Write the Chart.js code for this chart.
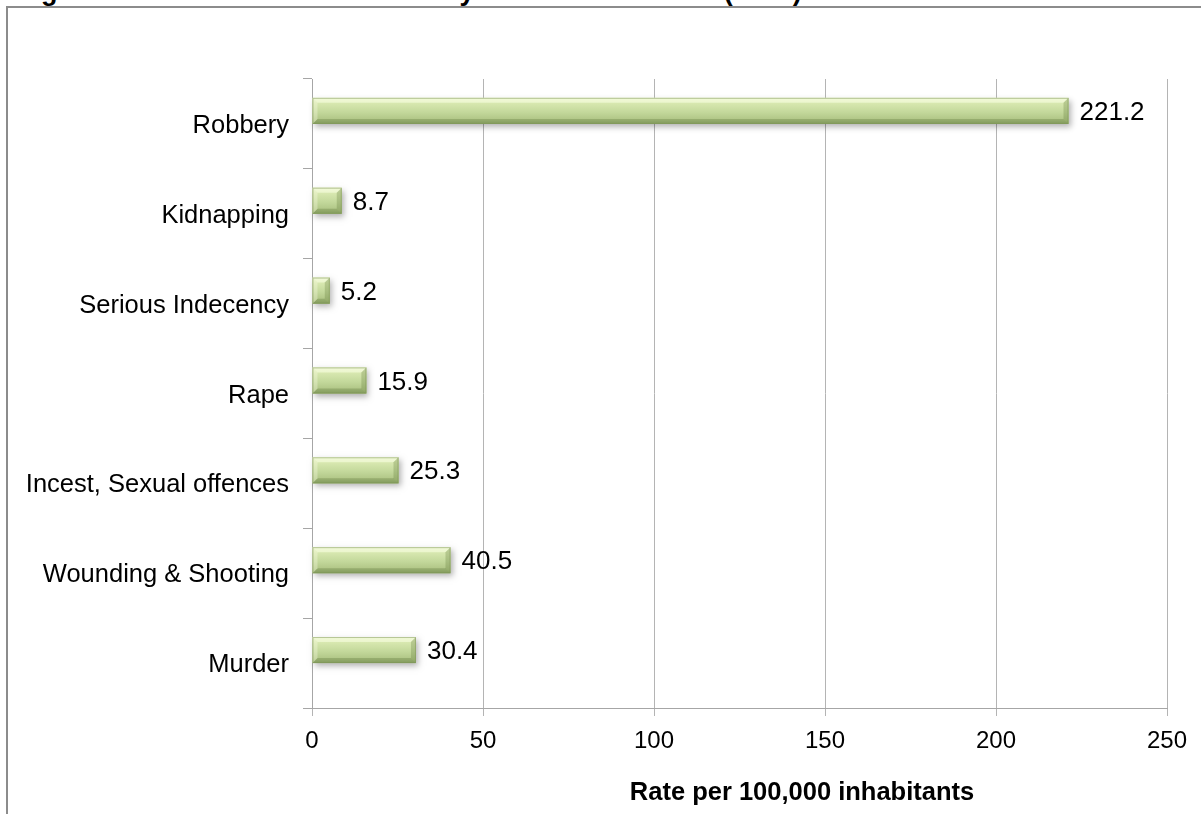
<!DOCTYPE html>
<html>
<head>
<meta charset="utf-8">
<script src="https://cdn.jsdelivr.net/npm/chart.js@4.4.1/dist/chart.umd.min.js"></script>
<style>
  html, body { margin:0; padding:0; background:#fff; width:1201px; height:814px; overflow:hidden; }
  #frame { position:absolute; left:6px; top:6px; width:1400px; height:1000px; border:2px solid #8c8c8c; box-sizing:border-box; }
  #title { position:absolute; left:17px; top:-22px; font:bold 27px "Liberation Sans", Arial, sans-serif; line-height:26px; color:#000; white-space:nowrap; }
  #wrap { position:absolute; left:0; top:0; width:1201px; height:814px; }
</style>
</head>
<body>
<div id="frame"></div>
<div id="title">Figure 5: Rate of Serious Crimes by Selected Offences (2012)</div>
<div id="wrap"><canvas id="c" width="1201" height="814"></canvas></div>
<script>
const categories = ['Robbery', 'Kidnapping', 'Serious Indecency', 'Rape', 'Incest, Sexual offences', 'Wounding & Shooting', 'Murder'];
const rates = [221.2, 8.7, 5.2, 15.9, 25.3, 40.5, 30.4];
const xTicks = [0, 50, 100, 150, 200, 250];
const axisTitle = 'Rate per 100,000 inhabitants';

const FONT = '"Liberation Sans", Arial, sans-serif';

function bevelBar(ctx, x0, x1, y0, y1) {
  const h = y1 - y0;
  const w = x1 - x0;
  if (w <= 0) return;
  const b = Math.min(5, w / 2, h / 2);
  ctx.save();
  ctx.shadowColor = 'rgba(0,0,0,0.30)';
  ctx.shadowBlur = 6;
  ctx.shadowOffsetX = 2;
  ctx.shadowOffsetY = 3;
  ctx.fillStyle = '#b8ce8e';
  ctx.fillRect(x0, y0, w, h);
  ctx.restore();
  const g = ctx.createLinearGradient(0, y0, 0, y1);
  g.addColorStop(0, '#e8f2ca');
  g.addColorStop(0.2, '#d8e8b0');
  g.addColorStop(0.55, '#c3d89b');
  g.addColorStop(0.85, '#afc585');
  g.addColorStop(1, '#98b070');
  ctx.fillStyle = g;
  ctx.fillRect(x0, y0, w, h);
  ctx.beginPath();
  ctx.moveTo(x0, y0); ctx.lineTo(x1, y0); ctx.lineTo(x1 - b, y0 + b); ctx.lineTo(x0 + b, y0 + b); ctx.closePath();
  ctx.fillStyle = 'rgba(250,255,228,0.55)';
  ctx.fill();
  ctx.beginPath();
  ctx.moveTo(x0, y1); ctx.lineTo(x1, y1); ctx.lineTo(x1 - b, y1 - b); ctx.lineTo(x0 + b, y1 - b); ctx.closePath();
  ctx.fillStyle = 'rgba(80,105,45,0.28)';
  ctx.fill();
  ctx.beginPath();
  ctx.moveTo(x0, y0); ctx.lineTo(x0 + b, y0 + b); ctx.lineTo(x0 + b, y1 - b); ctx.lineTo(x0, y1); ctx.closePath();
  ctx.fillStyle = 'rgba(255,255,235,0.30)';
  ctx.fill();
  ctx.beginPath();
  ctx.moveTo(x1, y0); ctx.lineTo(x1 - b, y0 + b); ctx.lineTo(x1 - b, y1 - b); ctx.lineTo(x1, y1); ctx.closePath();
  ctx.fillStyle = 'rgba(95,120,55,0.28)';
  ctx.fill();
  ctx.strokeStyle = 'rgba(125,150,85,0.5)';
  ctx.lineWidth = 1;
  ctx.strokeRect(x0 + 0.5, y0 + 0.5, w - 1, h - 1);
}

const bevelPlugin = {
  id: 'bevel',
  afterDatasetsDraw(chart) {
    const ctx = chart.ctx;
    const meta = chart.getDatasetMeta(0);
    ctx.save();
    meta.data.forEach((el, i) => {
      const p = el.getProps(['x', 'y', 'base', 'height'], true);
      const y0 = p.y - p.height;
      const y1 = p.y;
      bevelBar(ctx, Math.min(p.base, p.x), Math.max(p.base, p.x), y0, y1);
      ctx.fillStyle = '#000';
      ctx.font = '26px ' + FONT;
      ctx.textAlign = 'left';
      ctx.textBaseline = 'middle';
      ctx.fillText(rates[i].toFixed(1), p.x + 11, (y0 + y1) / 2 + 2);
    });
    ctx.restore();
  },
  afterDraw(chart) {
    const ctx = chart.ctx;
    ctx.save();
    ctx.fillStyle = '#000';
    ctx.font = 'bold 25.5px ' + FONT;
    ctx.textAlign = 'center';
    ctx.textBaseline = 'middle';
    ctx.fillText(axisTitle, 802, 793);
    ctx.restore();
  }
};

new Chart(document.getElementById('c'), {
  type: 'bar',
  data: {
    labels: categories,
    datasets: [{
      data: rates,
      backgroundColor: 'rgba(0,0,0,0)',
      borderWidth: 0,
      categoryPercentage: 1,
      barPercentage: 0.29
    }]
  },
  options: {
    indexAxis: 'y',
    responsive: false,
    animation: false,
    events: [],
    layout: { padding: { top: 79, right: 34, left: 0, bottom: 0 } },
    plugins: { legend: { display: false }, tooltip: { enabled: false }, title: { display: false } },
    scales: {
      x: {
        min: 0, max: 250,
        afterBuildTicks(scale) { scale.ticks = xTicks.map(v => ({ value: v })); },
        afterFit(scale) { scale.height = 106; },
        ticks: { font: { size: 24, family: FONT }, color: '#000', padding: 11 },
        grid: { color: '#b4b4b4', lineWidth: 1, tickLength: 8, drawTicks: true },
        border: { color: '#a6a6a6' }
      },
      y: {
        afterFit(scale) { scale.width = 312; },
        ticks: { font: { size: 25.5, family: FONT }, color: '#000', padding: 14, labelOffset: 2 },
        grid: { drawOnChartArea: false, offset: true, tickLength: 9, color: '#a6a6a6' },
        border: { color: '#a6a6a6' }
      }
    }
  },
  plugins: [bevelPlugin]
});
</script>
</body>
</html>
